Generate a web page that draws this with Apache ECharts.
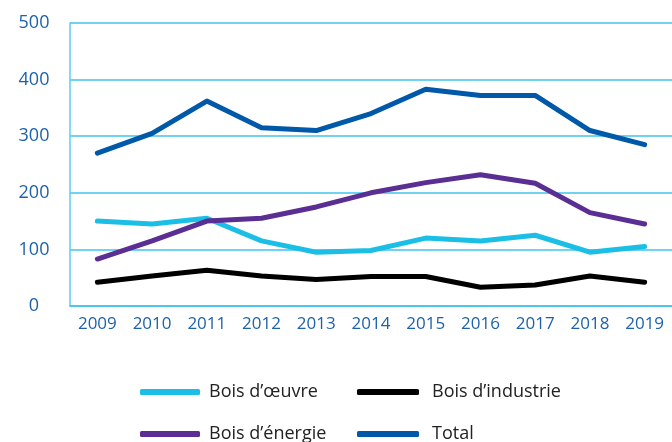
<!DOCTYPE html>
<html>
<head>
<meta charset="utf-8">
<script src="https://cdn.jsdelivr.net/npm/echarts@6/dist/echarts.min.js"></script>
<style>
  html, body { margin: 0; padding: 0; background: #fff; }
  #chart { width: 672px; height: 442px; }
</style>
</head>
<body>
<div id="chart"></div>
<script>
const years = ['2009', '2010', '2011', '2012', '2013', '2014', '2015', '2016', '2017', '2018', '2019'];
const boisOeuvre = [150, 145, 155, 115, 95, 98, 120, 115, 125, 95, 105];
const boisIndustrie = [42, 53, 63, 53, 47, 52, 52, 33, 37, 53, 42];
const boisEnergie = [83, 115, 150, 155, 175, 200, 218, 232, 217, 165, 145];
const total = [270, 305, 362, 315, 310, 340, 383, 372, 372, 310, 285];

const chart = echarts.init(document.getElementById('chart'));

// style commun des séries
const makeLine = (name, data, color) => ({
  name,
  type: 'line',
  data,
  symbol: 'none',
  lineStyle: { color, width: 5, cap: 'round', join: 'round' },
  itemStyle: { color }
});

// une légende par entrée, placée sur deux colonnes
const makeLegend = (name, left, top, width, gap) => ({
  data: [name],
  left, top,
  itemWidth: width, itemHeight: 6, icon: 'roundRect',
  textStyle: { color: '#222', fontSize: 18, fontFamily: 'Open Sans', padding: [0, 0, 0, gap] }
});

chart.setOption({
  animation: false,
  backgroundColor: '#fff',
  grid: { left: 70, right: -4, top: 23, bottom: 136 },
  legend: [
    makeLegend('Bois d\u2019œuvre', 135, 378, 60, 4),
    makeLegend('Bois d\u2019énergie', 135, 420, 60, 4),
    makeLegend('Bois d\u2019industrie', 352, 378, 62, 8),
    makeLegend('Total', 352, 420, 62, 8)
  ],
  xAxis: {
    type: 'category',
    data: years,
    boundaryGap: true,
    axisLine: { show: true, lineStyle: { color: '#3fc3e8', width: 1.5 } },
    axisTick: { show: false },
    axisLabel: { color: '#1d62ab', fontSize: 17, fontFamily: 'Open Sans', margin: 10 }
  },
  yAxis: {
    type: 'value',
    min: 0, max: 500, interval: 100,
    axisLine: { show: true, lineStyle: { color: '#5fcdec', width: 1.5 } },
    axisTick: { show: false },
    splitLine: { lineStyle: { color: '#3fc3e8', width: 1.5 } },
    axisLabel: { color: '#1d62ab', fontSize: 18, fontFamily: 'Open Sans', align: 'center', margin: 36 }
  },
  series: [
    makeLine('Bois d\u2019œuvre', boisOeuvre, '#1bbfe6'),
    makeLine('Bois d\u2019industrie', boisIndustrie, '#000000'),
    makeLine('Bois d\u2019énergie', boisEnergie, '#5a2e93'),
    makeLine('Total', total, '#0058a8')
  ]
});
</script>
</body>
</html>
